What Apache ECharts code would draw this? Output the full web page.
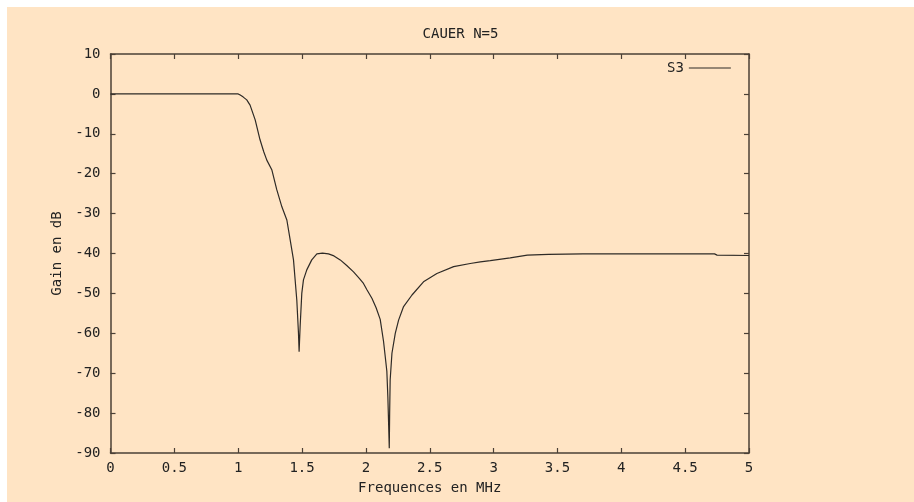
<!DOCTYPE html>
<html>
<head>
<meta charset="utf-8">
<script src="https://cdn.jsdelivr.net/npm/echarts@6/dist/echarts.min.js"></script>
<style>
html,body{margin:0;padding:0;background:#ffffff;}
#chart{position:absolute;left:7px;top:7px;width:907px;height:495px;background:#FFE4C4;}
</style>
</head>
<body>
<div id="chart"></div>
<script>
const titleText = "CAUER N=5";
const xName = "Frequences en MHz";
const yName = "Gain en dB";
const seriesName = "S3";
const xTicks = [0, 0.5, 1, 1.5, 2, 2.5, 3, 3.5, 4, 4.5, 5];
const yTicks = [10, 0, -10, -20, -30, -40, -50, -60, -70, -80, -90];
const freq = [0, 0.25, 0.5, 0.75, 0.9, 1.0, 1.016, 1.04, 1.067, 1.093, 1.133, 1.171, 1.2, 1.224, 1.263, 1.302, 1.342, 1.381, 1.407, 1.433, 1.459, 1.472, 1.477, 1.485, 1.498, 1.511, 1.537, 1.576, 1.616, 1.66, 1.707, 1.75, 1.799, 1.85, 1.903, 1.95, 1.981, 2.008, 2.047, 2.08, 2.112, 2.138, 2.152, 2.164, 2.172, 2.177, 2.183, 2.186, 2.190, 2.204, 2.230, 2.256, 2.295, 2.361, 2.451, 2.556, 2.687, 2.817, 2.896, 2.974, 3.13, 3.264, 3.43, 3.7, 4.0, 4.3, 4.5, 4.73, 4.75, 5.0];
const gain = [0, 0, 0, 0, 0, 0, -0.3, -0.8, -1.5, -2.8, -6.5, -11.5, -14.5, -16.6, -19, -24, -28.3, -31.6, -36.6, -41.6, -51.7, -60, -64.6, -58.3, -50, -46.6, -44.1, -41.6, -40.1, -39.9, -40.1, -40.6, -41.6, -43, -44.6, -46.3, -47.5, -49.1, -51.2, -53.6, -56.5, -62, -66, -69.5, -76, -81.7, -88.8, -80, -71.7, -65, -60, -56.7, -53.3, -50.4, -47.1, -45, -43.3, -42.5, -42.1, -41.8, -41.1, -40.4, -40.2, -40.1, -40.1, -40.1, -40.1, -40.1, -40.4, -40.5];

const fontFam = '"DejaVu Sans Mono", monospace';
const fs = 14;
const axisCol = '#4b4036';
const textCol = '#222222';
const pts = freq.map((f, i) => [f, gain[i]]);

const chart = echarts.init(document.getElementById('chart'));
const fmtX = v => String(v);
chart.setOption({
  animation: false,
  backgroundColor: '#FFE4C4',
  title: {text: titleText, left: 'center', top: 15, textStyle: {fontFamily: fontFam, fontSize: fs, fontWeight: 'normal', color: textCol}},
  legend: {data: [seriesName], left: 655, top: 49, align: 'right', itemWidth: 42, itemHeight: 10, itemGap: 0,
           itemStyle: {opacity: 0},
           lineStyle: {color: '#2e2a26', width: 1.2},
           textStyle: {fontFamily: fontFam, fontSize: fs, color: textCol}},
  grid: {left: 103.5, right: 165, top: 47, bottom: 49},
  xAxis: [
    {type: 'value', min: 0, max: 5, interval: 0.5, position: 'bottom',
     name: xName, nameLocation: 'middle', nameGap: 28,
     nameTextStyle: {fontFamily: fontFam, fontSize: fs, color: textCol},
     axisLine: {show: true, onZero: false, lineStyle: {color: axisCol, width: 1.5}},
     axisTick: {show: true, inside: true, length: 5, lineStyle: {color: axisCol, width: 1.2}},
     axisLabel: {fontFamily: fontFam, fontSize: fs, color: textCol, margin: 8, formatter: fmtX},
     splitLine: {show: false}},
    {type: 'value', min: 0, max: 5, interval: 0.5, position: 'top',
     axisLine: {show: true, onZero: false, lineStyle: {color: axisCol, width: 1.5}},
     axisTick: {show: true, inside: true, length: 5, lineStyle: {color: axisCol, width: 1.2}},
     axisLabel: {show: false}, splitLine: {show: false}}
  ],
  yAxis: [
    {type: 'value', min: -90, max: 10, interval: 10, position: 'left',
     name: yName, nameLocation: 'middle', nameGap: 44, nameRotate: 90,
     nameTextStyle: {fontFamily: fontFam, fontSize: fs, color: textCol},
     axisLine: {show: true, onZero: false, lineStyle: {color: axisCol, width: 1.5}},
     axisTick: {show: true, inside: true, length: 5, lineStyle: {color: axisCol, width: 1.2}},
     axisLabel: {fontFamily: fontFam, fontSize: fs, color: textCol, margin: 10},
     splitLine: {show: false}},
    {type: 'value', min: -90, max: 10, interval: 10, position: 'right',
     axisLine: {show: true, onZero: false, lineStyle: {color: axisCol, width: 1.5}},
     axisTick: {show: true, inside: true, length: 5, lineStyle: {color: axisCol, width: 1.2}},
     axisLabel: {show: false}, splitLine: {show: false}}
  ],
  series: [{
    name: seriesName, type: 'line', data: pts, symbol: 'none', smooth: false,
    xAxisIndex: 0, yAxisIndex: 0,
    lineStyle: {color: '#2e2a26', width: 1.2}, itemStyle: {color: '#2e2a26'}
  }]
});
</script>
</body>
</html>
